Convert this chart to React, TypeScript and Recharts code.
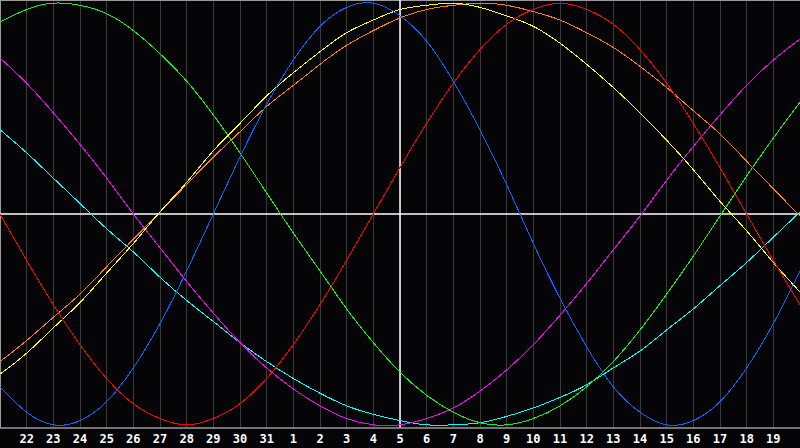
import { LineChart, Line, XAxis, YAxis, CartesianGrid, ReferenceLine } from 'recharts';

// day labels, one per grid column (index 0 .. 30)
const days = [
    '21', '22', '23', '24', '25', '26', '27', '28', '29', '30', '31',
    '1', '2', '3', '4', '5', '6', '7', '8', '9', '10',
    '11', '12', '13', '14', '15', '16', '17', '18', '19', '20'
];

// curve values, -100 .. 100
const physical = [-82, -94, -100, -98, -89, -73, -52, -27, 0, 27, 52, 73, 89, 98, 100, 94, 82, 63, 40, 14, -14, -40, -63, -82, -94, -100, -98, -89, -73, -52, -27];
const emotional = [0, -22, -43, -62, -78, -90, -97, -100, -97, -90, -78, -62, -43, -22, 0, 22, 43, 62, 78, 90, 97, 100, 97, 90, 78, 62, 43, 22, 0, -22, -43];
const intellectual = [91, 97, 100, 99, 95, 87, 76, 63, 47, 29, 10, -9, -27, -45, -61, -75, -86, -94, -99, -100, -97, -91, -82, -70, -55, -38, -20, -1, 18, 36, 53];
const intuitive = [74, 62, 48, 33, 17, 0, -16, -32, -47, -61, -73, -83, -91, -97, -100, -100, -97, -92, -84, -74, -62, -48, -33, -17, -1, 16, 32, 47, 61, 73, 83];
const aesthetic = [-76, -66, -54, -42, -28, -14, 1, 15, 30, 43, 56, 67, 77, 86, 92, 97, 99, 100, 98, 94, 89, 81, 71, 60, 48, 35, 21, 6, -8, -23, -37];
const awareness = [-70, -60, -49, -38, -25, -12, 1, 14, 27, 39, 51, 61, 71, 80, 87, 93, 97, 99, 100, 99, 96, 92, 86, 79, 70, 60, 49, 38, 25, 12, -1];
const spiritual = [40, 29, 17, 5, -7, -18, -30, -41, -51, -61, -70, -78, -85, -91, -95, -98, -100, -100, -99, -96, -92, -87, -81, -73, -65, -55, -45, -34, -23, -11, 1];

const TODAY = 15;
const ticks = days.map((_d, i) => i).filter(i => i > 0 && i < days.length - 1);

const data = days.map((day, i) => ({
    idx: i,
    day,
    physical: physical[i],
    emotional: emotional[i],
    intellectual: intellectual[i],
    intuitive: intuitive[i],
    aesthetic: aesthetic[i],
    awareness: awareness[i],
    spiritual: spiritual[i]
}));

const series = [
    { key: 'spiritual', color: '#00ffff' },
    { key: 'intuitive', color: '#ff00ff' },
    { key: 'intellectual', color: '#00ff00' },
    { key: 'awareness', color: '#ff8000' },
    { key: 'aesthetic', color: '#ffff00' },
    { key: 'emotional', color: '#ff0000' },
    { key: 'physical', color: '#0066ff' }
];

export default function App() {
    return (
        <div style={{ position: 'fixed', top: 0, left: 0, width: 800, height: 448, background: '#050508' }}>
            <LineChart width={800} height={448} data={data} margin={{ top: 0, right: 0, bottom: 0, left: 0 }}>
                <CartesianGrid horizontal={false} stroke="#3a3a3a" shapeRendering="crispEdges" />
                <XAxis
                    dataKey="idx"
                    type="number"
                    domain={[0, days.length - 1]}
                    ticks={ticks}
                    tickFormatter={(i: number) => days[i]}
                    height={20}
                    tickLine={false}
                    tickSize={0}
                    tickMargin={6}
                    axisLine={{ stroke: '#9a9a9a', strokeWidth: 1.5 }}
                    tick={{ fill: '#ffffff', fontSize: 12, fontWeight: 'bold', fontFamily: 'DejaVu Sans Mono' }}
                    interval={0}
                />
                <YAxis hide domain={[-101.5, 101.5]} />
                <ReferenceLine x={0} stroke="#9a9a9a" strokeWidth={2} />
                <ReferenceLine y={101.5} stroke="#9a9a9a" strokeWidth={2} />
                <ReferenceLine y={0} stroke="#ffffff" strokeWidth={1.5} />
                <ReferenceLine x={TODAY} stroke="#ffffff" strokeWidth={1.5} />
                {series.map(s => (
                    <Line
                        key={s.key}
                        type="natural"
                        dataKey={s.key}
                        stroke={s.color}
                        strokeWidth={1}
                        shapeRendering="crispEdges"
                        dot={false}
                        activeDot={false}
                        isAnimationActive={false}
                    />
                ))}
            </LineChart>
        </div>
    );
}
